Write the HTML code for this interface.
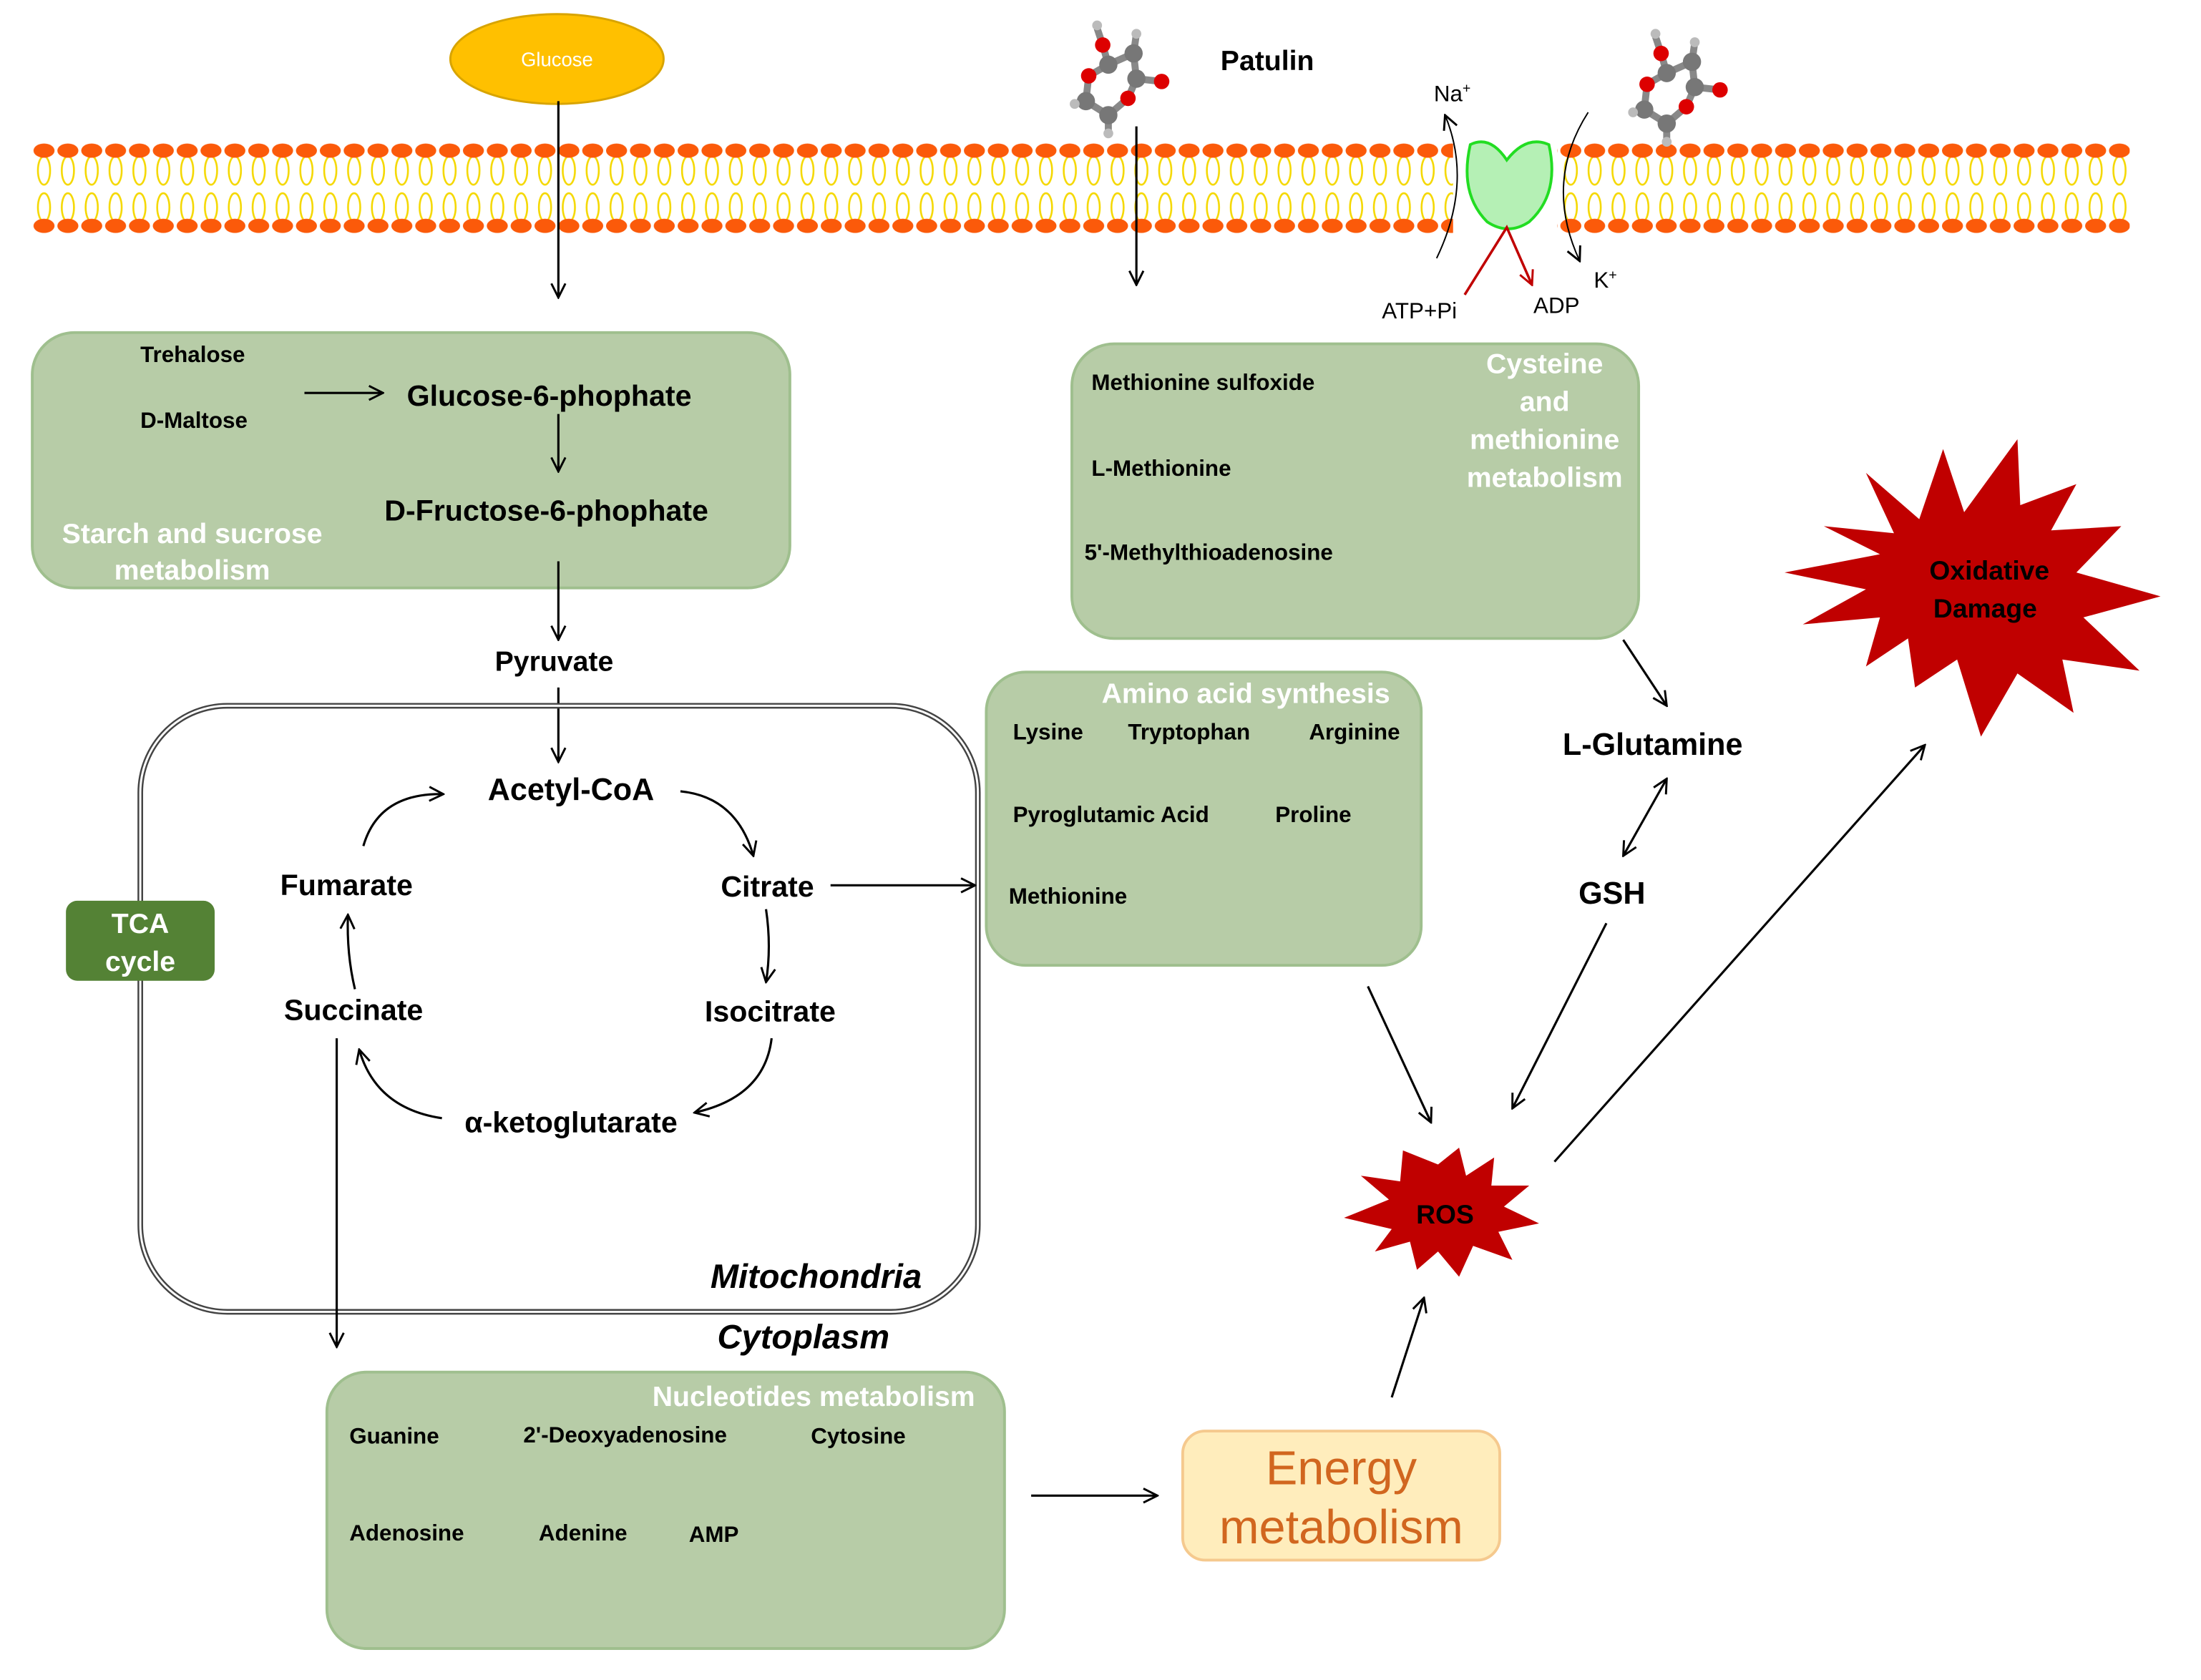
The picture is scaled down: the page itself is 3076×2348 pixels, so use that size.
<!DOCTYPE html>
<html><head><meta charset="utf-8"><style>html,body{margin:0;padding:0;background:#fff}svg{display:block}</style></head><body>
<svg width="3076" height="2348" viewBox="0 0 1550 1183" xmlns="http://www.w3.org/2000/svg" font-family="Liberation Sans, Arial, sans-serif">
<defs>
<pattern id="mem" x="22.6" y="100" width="16.8" height="66" patternUnits="userSpaceOnUse">
<ellipse cx="8.4" cy="20" rx="4.3" ry="10" fill="none" stroke="#f5d800" stroke-width="1.3"/>
<ellipse cx="8.4" cy="46" rx="4.3" ry="10" fill="none" stroke="#f5d800" stroke-width="1.3"/>
<rect x="0" y="31" width="16.8" height="4" fill="#fff"/>
<ellipse cx="8.4" cy="6" rx="7.4" ry="5" fill="#fb5a0a"/>
<ellipse cx="8.4" cy="59" rx="7.4" ry="5" fill="#fb5a0a"/>
</pattern>
<marker id="a" viewBox="0 0 12 12" refX="11" refY="6" markerWidth="12" markerHeight="12" markerUnits="userSpaceOnUse" orient="auto-start-reverse"><path d="M1,1 L11,6 L1,11" fill="none" stroke="#000" stroke-width="1.5"/></marker>
<marker id="r" viewBox="0 0 12 12" refX="11" refY="6" markerWidth="12" markerHeight="12" markerUnits="userSpaceOnUse" orient="auto"><path d="M1,1 L11,6 L1,11" fill="none" stroke="#c00000" stroke-width="1.5"/></marker>
<g id="mol">
<g stroke="#888" stroke-width="5">
<line x1="-20" y1="-32" x2="-16" y2="-20"/>
<line x1="-16" y1="-20" x2="-12" y2="-6"/>
<line x1="-12" y1="-6" x2="6" y2="-14"/>
<line x1="6" y1="-14" x2="8" y2="4"/>
<line x1="8" y1="4" x2="26" y2="6"/>
<line x1="-12" y1="-6" x2="-26" y2="2"/>
<line x1="-26" y1="2" x2="-28" y2="20"/>
<line x1="-28" y1="20" x2="-12" y2="30"/>
<line x1="-12" y1="30" x2="2" y2="18"/>
<line x1="2" y1="18" x2="8" y2="4"/>
<line x1="-12" y1="30" x2="-12" y2="42"/>
<line x1="6" y1="-14" x2="8" y2="-28"/>
</g>
<circle cx="-20" cy="-34" r="3.5" fill="#bbb"/>
<circle cx="-16" cy="-20" r="5.5" fill="#d00"/>
<circle cx="-12" cy="-6" r="6.5" fill="#777"/>
<circle cx="6" cy="-14" r="6.5" fill="#777"/>
<circle cx="8" cy="-28" r="3.5" fill="#bbb"/>
<circle cx="8" cy="4" r="6.5" fill="#777"/>
<circle cx="26" cy="6" r="5.5" fill="#d00"/>
<circle cx="-26" cy="2" r="5.5" fill="#d00"/>
<circle cx="-28" cy="20" r="6.5" fill="#777"/>
<circle cx="-36" cy="22" r="3.5" fill="#bbb"/>
<circle cx="-12" cy="30" r="6.5" fill="#777"/>
<circle cx="2" cy="18" r="5.5" fill="#d00"/>
<circle cx="-12" cy="43" r="3.5" fill="#bbb"/>
</g>
</defs>

<!-- membrane -->
<rect x="22.6" y="100" width="1000.7" height="66" fill="url(#mem)"/>
<rect x="1096.6" y="100" width="403.2" height="66" fill="url(#mem)"/>

<g transform="scale(0.988)">
<!-- glucose -->
<ellipse cx="397" cy="42" rx="76" ry="32" fill="#ffc000" stroke="#d8a400" stroke-width="1.5"/>
<text x="397" y="47" font-size="14" fill="#fff" text-anchor="middle">Glucose</text>
<line x1="398" y1="72" x2="398" y2="212" stroke="#000" stroke-width="1.6" marker-end="url(#a)"/>

<!-- patulin -->
<use href="#mol" x="802" y="52"/>
<text x="870" y="50" font-size="20" font-weight="bold">Patulin</text>
<line x1="810" y1="90" x2="810" y2="203" stroke="#000" stroke-width="1.6" marker-end="url(#a)"/>
<use href="#mol" x="1200" y="58"/>

<!-- pump -->
<path d="M1048,103 Q1062,96 1074,114 Q1088,96 1104,103 Q1112,138 1090,158 Q1075,168 1060,158 Q1040,138 1048,103 Z" fill="#b5f0b5" stroke="#22dd22" stroke-width="2"/>
<path d="M1024,184 Q1050,130 1030,82" fill="none" stroke="#000" stroke-width="1" marker-end="url(#a)"/>
<path d="M1132,80 Q1100,130 1126,186" fill="none" stroke="#000" stroke-width="1" marker-end="url(#a)"/>
<path d="M1044,210 L1074,162 L1092,203" fill="none" stroke="#c00000" stroke-width="1.8" marker-end="url(#r)"/>
<text x="1022" y="72" font-size="16">Na<tspan font-size="10" dy="-6">+</tspan></text>
<text x="1136" y="205" font-size="16">K<tspan font-size="10" dy="-6">+</tspan></text>
<text x="985" y="227" font-size="16">ATP+Pi</text>
<text x="1093" y="223" font-size="16">ADP</text>

<!-- box1 -->
<rect x="23" y="237" width="540" height="182" rx="30" fill="#b7cca7" stroke="#9fbf8e" stroke-width="2"/>
<g font-weight="bold">
<text x="100" y="258" font-size="16">Trehalose</text>
<text x="100" y="305" font-size="16">D-Maltose</text>
<text x="290" y="289" font-size="21">Glucose-6-phophate</text>
<text x="274" y="371" font-size="21">D-Fructose-6-phophate</text>
<text x="137" y="387" font-size="20" fill="#fff" text-anchor="middle">Starch and sucrose</text>
<text x="137" y="413" font-size="20" fill="#fff" text-anchor="middle">metabolism</text>
</g>
<line x1="217" y1="280" x2="273" y2="280" stroke="#000" stroke-width="1.6" marker-end="url(#a)"/>
<line x1="398" y1="295" x2="398" y2="336" stroke="#000" stroke-width="1.6" marker-end="url(#a)"/>
<line x1="398" y1="400" x2="398" y2="456" stroke="#000" stroke-width="1.6" marker-end="url(#a)"/>
<text x="395" y="478" font-size="20" font-weight="bold" text-anchor="middle">Pyruvate</text>
<line x1="398" y1="490" x2="398" y2="543" stroke="#000" stroke-width="1.6" marker-end="url(#a)"/>

<!-- mitochondria -->
<rect x="100" y="503" width="597" height="432" rx="62" fill="none" stroke="#444" stroke-width="4"/>
<rect x="100" y="503" width="597" height="432" rx="62" fill="none" stroke="#fff" stroke-width="1.5"/>
<g font-weight="bold" font-size="21">
<text x="407" y="570" font-size="22" text-anchor="middle">Acetyl-CoA</text>
<text x="547" y="639" text-anchor="middle">Citrate</text>
<text x="549" y="728" text-anchor="middle">Isocitrate</text>
<text x="407" y="807" text-anchor="middle">α-ketoglutarate</text>
<text x="252" y="727" text-anchor="middle">Succinate</text>
<text x="247" y="638" text-anchor="middle">Fumarate</text>
<text x="657" y="918" font-size="24" font-style="italic" text-anchor="end">Mitochondria</text>
<text x="634" y="961" font-size="24" font-style="italic" text-anchor="end">Cytoplasm</text>
</g>
<g fill="none" stroke="#000" stroke-width="1.6">
<path d="M259,603 Q270,565 316,566" marker-end="url(#a)"/>
<path d="M485,564 Q525,568 537,610" marker-end="url(#a)"/>
<path d="M546,648 Q550,675 546,700" marker-end="url(#a)"/>
<path d="M550,740 Q545,782 495,793" marker-end="url(#a)"/>
<path d="M315,797 Q268,790 256,748" marker-end="url(#a)"/>
<path d="M253,705 Q247,680 248,652" marker-end="url(#a)"/>
<line x1="592" y1="631" x2="695" y2="631" marker-end="url(#a)"/>
<line x1="240" y1="740" x2="240" y2="960" marker-end="url(#a)"/>
</g>
<rect x="47" y="642" width="106" height="57" rx="8" fill="#548235"/>
<text x="100" y="665" font-size="20" font-weight="bold" fill="#fff" text-anchor="middle">TCA</text>
<text x="100" y="692" font-size="20" font-weight="bold" fill="#fff" text-anchor="middle">cycle</text>

<!-- nucleotides -->
<rect x="233" y="978" width="483" height="197" rx="28" fill="#b7cca7" stroke="#9fbf8e" stroke-width="2"/>
<g font-weight="bold" font-size="16">
<text x="580" y="1002" font-size="20" fill="#fff" text-anchor="middle">Nucleotides metabolism</text>
<text x="249" y="1029">Guanine</text>
<text x="373" y="1028">2'-Deoxyadenosine</text>
<text x="578" y="1029">Cytosine</text>
<text x="249" y="1098">Adenosine</text>
<text x="384" y="1098">Adenine</text>
<text x="491" y="1099">AMP</text>
</g>
<line x1="735" y1="1066" x2="825" y2="1066" stroke="#000" stroke-width="1.6" marker-end="url(#a)"/>

<!-- energy -->
<rect x="843" y="1020" width="226" height="92" rx="16" fill="#ffedbc" stroke="#f5c98e" stroke-width="2"/>
<text x="956" y="1058" font-size="34" fill="#d1661f" text-anchor="middle">Energy</text>
<text x="956" y="1100" font-size="34" fill="#d1661f" text-anchor="middle">metabolism</text>
<line x1="992" y1="996" x2="1015" y2="925" stroke="#000" stroke-width="1.6" marker-end="url(#a)"/>

<!-- amino acid -->
<rect x="703" y="479" width="310" height="209" rx="28" fill="#b7cca7" stroke="#9fbf8e" stroke-width="2"/>
<g font-weight="bold" font-size="16">
<text x="888" y="501" font-size="20" fill="#fff" text-anchor="middle">Amino acid synthesis</text>
<text x="722" y="527">Lysine</text>
<text x="804" y="527">Tryptophan</text>
<text x="933" y="527">Arginine</text>
<text x="722" y="586">Pyroglutamic Acid</text>
<text x="909" y="586">Proline</text>
<text x="719" y="644">Methionine</text>
</g>

<!-- cysteine -->
<rect x="764" y="245" width="404" height="210" rx="30" fill="#b7cca7" stroke="#9fbf8e" stroke-width="2"/>
<g font-weight="bold" font-size="16">
<text x="778" y="278">Methionine sulfoxide</text>
<text x="778" y="339">L-Methionine</text>
<text x="773" y="399">5'-Methylthioadenosine</text>
<g font-size="20" fill="#fff" text-anchor="middle">
<text x="1101" y="266">Cysteine</text>
<text x="1101" y="293">and</text>
<text x="1101" y="320">methionine</text>
<text x="1101" y="347">metabolism</text>
</g>
</g>
<g stroke="#000" stroke-width="1.6">
<line x1="1157" y1="456" x2="1188" y2="503" marker-end="url(#a)"/>
<line x1="1188" y1="555" x2="1157" y2="610" marker-end="url(#a)" marker-start="url(#a)"/>
<line x1="1145" y1="658" x2="1078" y2="790" marker-end="url(#a)"/>
<line x1="975" y1="703" x2="1020" y2="800" marker-end="url(#a)"/>
<line x1="1108" y1="828" x2="1372" y2="531" marker-end="url(#a)"/>
</g>
<text x="1178" y="538" font-size="22" font-weight="bold" text-anchor="middle">L-Glutamine</text>
<text x="1149" y="644" font-size="22" font-weight="bold" text-anchor="middle">GSH</text>

<!-- ROS star -->
<polygon points="1025,830 1040,818 1045,838 1065,825 1063,845 1090,845 1072,860 1097,872 1068,878 1078,898 1050,888 1040,910 1025,892 1010,905 1005,885 980,892 992,876 958,868 990,855 970,838 998,842 1000,820" fill="#c00000"/>
<text x="1030" y="872" font-size="19" font-weight="bold" text-anchor="middle">ROS</text>

<!-- Oxidative star -->
<polygon points="1330,337 1368,370 1385,320 1400,365 1438,313 1440,360 1480,345 1462,378 1512,375 1480,408 1540,425 1485,440 1525,478 1470,470 1478,508 1438,480 1412,525 1395,470 1365,490 1360,455 1330,475 1340,440 1285,445 1330,420 1272,408 1340,395 1300,375 1350,380" fill="#c00000"/>
<text x="1418" y="413" font-size="19" font-weight="bold" text-anchor="middle">Oxidative</text>
<text x="1415" y="440" font-size="19" font-weight="bold" text-anchor="middle">Damage</text>
</g>
</svg>
</body></html>
